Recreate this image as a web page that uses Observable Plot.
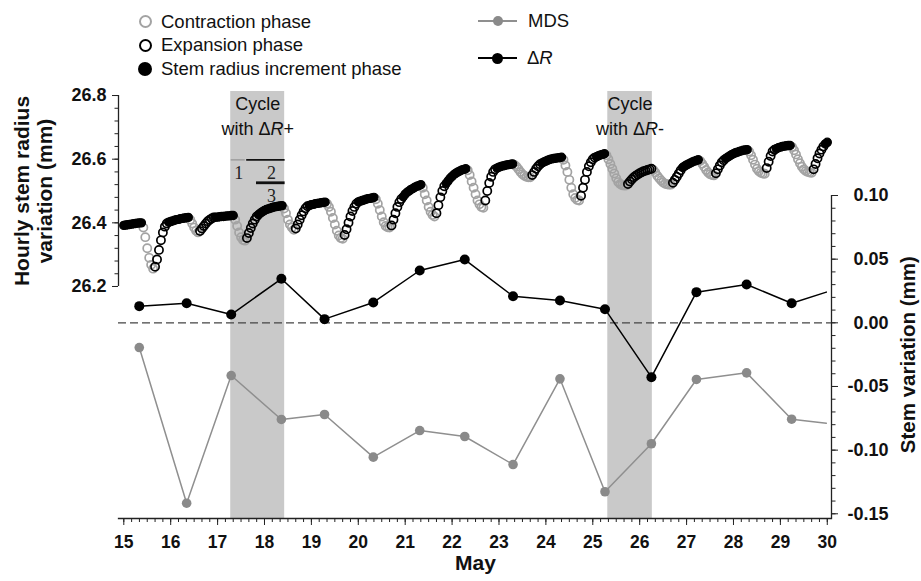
<!DOCTYPE html>
<html><head><meta charset="utf-8">
<script src="https://cdn.jsdelivr.net/npm/d3@7"></script>
<script src="https://cdn.jsdelivr.net/npm/@observablehq/plot@0.6"></script>
<style>
body{margin:0;background:#fff;font-family:"Liberation Sans",Arial,sans-serif;color:#111;}
#legend{position:relative;height:80px;width:921px;font-size:18.5px;}
.t{position:absolute;white-space:nowrap;line-height:1;}
.s{position:absolute;box-sizing:border-box;border-radius:50%;}
.ln{position:absolute;height:1.5px;}
</style></head>
<body>
<div id="legend">
  <div class="s" style="left:138.5px;top:15px;width:13px;height:13px;border:2.4px solid #a3a3a3;"></div>
  <div class="t" style="left:161px;top:12.5px;">Contraction phase</div>
  <div class="s" style="left:138.5px;top:38.5px;width:13px;height:13px;border:2.8px solid #000;"></div>
  <div class="t" style="left:161px;top:36px;">Expansion phase</div>
  <div class="s" style="left:138px;top:62px;width:14px;height:14px;background:#000;"></div>
  <div class="t" style="left:161px;top:60px;">Stem radius increment phase</div>
  <div class="ln" style="left:478px;top:20px;width:39px;background:#8f8f8f;"></div>
  <div class="s" style="left:492.5px;top:16px;width:10px;height:10px;background:#8a8a8a;"></div>
  <div class="t" style="left:528px;top:12px;">MDS</div>
  <div class="ln" style="left:478px;top:57px;width:39px;background:#000;"></div>
  <div class="s" style="left:492px;top:52.5px;width:11px;height:11px;background:#000;"></div>
  <div class="t" style="left:527px;top:49px;">Δ<i>R</i></div>
</div>
<div id="chart"></div>
<script>
// ---- daily series (stem variation, mm) ----
const dayPos = [15.33,16.34,17.29,18.36,19.28,20.32,21.31,22.27,23.30,24.30,25.26,26.25,27.21,28.28,29.24,29.98];
const deltaR = [0.0131,0.0154,0.0065,0.0346,0.0029,0.0160,0.0411,0.0497,0.0209,0.0175,0.0107,-0.0427,0.0241,0.0301,0.0154,0.0241];
const mds    = [-0.0194,-0.1417,-0.0414,-0.0759,-0.0720,-0.1055,-0.0846,-0.0893,-0.1113,-0.0440,-0.1327,-0.0950,-0.0445,-0.0393,-0.0757,-0.0788];
const markerCount = 15;

// ---- hourly stem radius (mm), from May 15 00h ----
const hourlyRadius = [
 26.392,26.393,26.394,26.395,26.396,26.397,26.398,26.399,26.400,26.400,26.385,26.355,26.320,26.290,26.268,26.256,26.262,26.285,26.315,26.345,26.370,26.388,26.398,26.402,
 26.404,26.406,26.408,26.410,26.411,26.413,26.414,26.415,26.416,26.417,26.410,26.398,26.385,26.375,26.370,26.374,26.382,26.390,26.398,26.405,26.410,26.414,26.417,26.418,
 26.418,26.419,26.420,26.420,26.421,26.422,26.422,26.423,26.423,26.410,26.390,26.370,26.355,26.346,26.344,26.352,26.368,26.384,26.398,26.410,26.420,26.426,26.431,26.435,
 26.439,26.442,26.444,26.446,26.448,26.450,26.451,26.452,26.453,26.454,26.445,26.430,26.410,26.395,26.385,26.378,26.382,26.395,26.410,26.424,26.436,26.446,26.452,26.455,
 26.457,26.458,26.460,26.461,26.462,26.463,26.464,26.465,26.460,26.450,26.435,26.415,26.395,26.375,26.360,26.352,26.350,26.362,26.380,26.400,26.420,26.437,26.450,26.460,
 26.466,26.468,26.470,26.472,26.474,26.476,26.477,26.478,26.480,26.474,26.460,26.440,26.420,26.402,26.390,26.386,26.385,26.392,26.410,26.430,26.450,26.465,26.475,26.482,
 26.490,26.496,26.500,26.505,26.508,26.512,26.515,26.517,26.520,26.510,26.490,26.470,26.450,26.435,26.425,26.420,26.430,26.455,26.480,26.500,26.515,26.524,26.532,26.540,
 26.546,26.552,26.556,26.560,26.563,26.566,26.568,26.570,26.565,26.550,26.530,26.510,26.490,26.470,26.458,26.450,26.447,26.470,26.500,26.525,26.545,26.560,26.568,26.572,
 26.575,26.577,26.579,26.580,26.582,26.583,26.584,26.585,26.582,26.576,26.568,26.560,26.553,26.548,26.545,26.543,26.543,26.550,26.560,26.570,26.578,26.584,26.588,26.591,
 26.594,26.597,26.599,26.601,26.602,26.603,26.604,26.605,26.606,26.598,26.580,26.560,26.535,26.510,26.490,26.478,26.472,26.470,26.485,26.510,26.535,26.560,26.578,26.590,
 26.600,26.605,26.608,26.611,26.613,26.615,26.617,26.612,26.600,26.585,26.570,26.555,26.540,26.528,26.522,26.518,26.517,26.517,26.522,26.530,26.537,26.543,26.548,26.552,
 26.556,26.559,26.562,26.564,26.566,26.568,26.570,26.566,26.558,26.548,26.540,26.533,26.527,26.523,26.521,26.520,26.520,26.526,26.535,26.545,26.555,26.565,26.574,26.578,
 26.582,26.585,26.588,26.591,26.594,26.596,26.598,26.594,26.586,26.576,26.566,26.558,26.553,26.550,26.549,26.556,26.568,26.580,26.590,26.597,26.602,26.606,26.610,26.614,
 26.617,26.620,26.622,26.624,26.626,26.628,26.629,26.630,26.624,26.612,26.598,26.583,26.570,26.562,26.557,26.555,26.554,26.572,26.592,26.610,26.624,26.630,26.633,26.636,
 26.638,26.640,26.641,26.642,26.643,26.643,26.638,26.628,26.615,26.600,26.587,26.576,26.568,26.563,26.560,26.558,26.557,26.568,26.585,26.603,26.618,26.630,26.640,26.648,
 26.653
];
// C = contraction, E = expansion, I = stem radius increment
const hourlyPhase = [
 "IIIIIIIIIICCCCCCEEEEEEEI","IIIIIIIIIICCCCCEEEEEEEEI","IIIIIIIIICCCCCCEEEEEEIII",
 "IIIIIIIIIICCCCCCEEEEEEEI","IIIIIIIICCCCCCCCCEEEEEEE","IIIIIIIIICCCCCCCCEEEEEEI",
 "IIIIIIIIICCCCCCCEEEEEIII","IIIIIIIICCCCCCCCCEEEEEEI","IIIIIIIICCCCCCCCCEEEEEII",
 "IIIIIIIIICCCCCCCCCEEEEEE","EEIIIIICCCCCCCCCCCEEEEEE","EEEEEEECCCCCCCCCCEEEEEII",
 "IIIIIIICCCCCCCCEEEEEIIII","IIIIIIIICCCCCCCCCEEEEEII","IIIIIICCCCCCCCCCCEEEEEEI","I"
].join("");

// ---- shaded cycles & labels ----
const cycleStart = [17.28, 25.32];
const cycleEnd   = [18.43, 26.27];
const cycleLine2 = ["with ΔR+", "with ΔR-"];

// ---- axes ----
const dayTicks = d3.range(15, 31);
const dayMinor = d3.range(15*6, 30*6+1).map(v => v/6);
const leftTicks = [26.2, 26.4, 26.6, 26.8];
const leftMinor = d3.range(0, 16).map(i => 26.2 + i*0.04);
const rightTicks = [-0.15, -0.10, -0.05, 0.00, 0.05, 0.10];
const rightMinor = d3.range(0, 26).map(i => -0.15 + i*0.01);

// left (hourly radius) axis expressed in right-axis units
const OFF = 6.52146;
const toR = L => L/4 - OFF;
const fromR = r => (r + OFF)*4;

const xMin = 14.887, xMax = 30.09, yMin = -0.1537, yMax = 0.1817;

const hourly = hourlyRadius.map((v,i) => ({day: 15 + i/24, y: toR(v), phase: hourlyPhase[i]}));
const daily = dayPos.map((d,i) => ({day: d, dr: deltaR[i], mds: mds[i], i}));
const cycles = cycleStart.map((s,i) => ({s, e: cycleEnd[i], mid: (s + cycleEnd[i])/2, l2: cycleLine2[i]}));

// phase-annotation inside first cycle
const phaseRules = [
  {x1: 17.29, x2: 17.59, y: 0.128, stroke: "#9a9a9a", w: 1.4},
  {x1: 17.62, x2: 18.44, y: 0.128, stroke: "#111", w: 1.6},
  {x1: 17.83, x2: 18.44, y: 0.110, stroke: "#111", w: 2.8}
];
const phaseNums = [
  {x: 17.45, y: 0.1133, t: "1"},
  {x: 18.15, y: 0.1133, t: "2"},
  {x: 18.15, y: 0.0947, t: "3"}
];

const bold = {fontWeight: "bold"};
const plot = Plot.plot({
  width: 921, height: 501,
  marginTop: 11, marginBottom: 63, marginLeft: 118, marginRight: 90,
  x: {domain: [xMin, xMax], label: null},
  y: {domain: [yMin, yMax], label: null},
  style: {fontFamily: "'Liberation Sans', Arial, sans-serif", fontSize: "18px", color: "#111", background: "white", overflow: "visible"},
  marks: [
    Plot.rect(cycles, {x1: "s", x2: "e", fill: "#c9c9c9"}),
    Plot.ruleY([0], {stroke: "#444", strokeWidth: 1.3, strokeDasharray: "8,4"}),
    Plot.line(daily, {x: "day", y: "mds", stroke: "#8f8f8f", strokeWidth: 1.5}),
    Plot.dot(daily.filter(d => d.i < markerCount), {x: "day", y: "mds", r: 4.8, fill: "#8a8a8a"}),
    Plot.line(daily, {x: "day", y: "dr", stroke: "#000", strokeWidth: 1.5}),
    Plot.dot(daily.filter(d => d.i < markerCount), {x: "day", y: "dr", r: 5, fill: "#000"}),
    Plot.dot(hourly.filter(d => d.phase === "C"), {x: "day", y: "y", r: 4.1, stroke: "#a3a3a3", fill: "none", strokeWidth: 1.7}),
    Plot.dot(hourly.filter(d => d.phase === "E"), {x: "day", y: "y", r: 4.1, stroke: "#000", fill: "none", strokeWidth: 1.7}),
    Plot.dot(hourly.filter(d => d.phase === "I"), {x: "day", y: "y", r: 4.1, stroke: "#000", fill: "#000", strokeWidth: 1.2}),
    // cycle labels
    Plot.text(cycles, {x: "mid", y: () => 0.1668, text: () => "Cycle", fontSize: 18, lineAnchor: "bottom", fill: "#111"}),
    Plot.text(cycles, {x: "mid", y: () => 0.1479, text: "l2", fontSize: 18, lineAnchor: "bottom", fill: "#111"}),
    Plot.ruleY(phaseRules, {x1: "x1", x2: "x2", y: "y", stroke: "stroke", strokeWidth: "w"}),
    Plot.text(phaseNums, {x: "x", y: "y", text: "t", fontFamily: "'Liberation Serif', serif", fontSize: 18, lineAnchor: "bottom", fill: "#222"}),
    // axis lines
    Plot.frame({anchor: "bottom", stroke: "#222", strokeWidth: 1.3}),
    Plot.ruleX([xMin], {y1: toR(26.2), y2: toR(26.8), stroke: "#222", strokeWidth: 1.3}),
    Plot.ruleX([xMax], {y1: yMin, y2: 0.10, stroke: "#222", strokeWidth: 1.3}),
    // x axis
    Plot.axisX(dayTicks, {tickSize: 7, tickPadding: 10, fontSize: 17.5, ...bold, label: null, stroke: "#222"}),
    Plot.axisX(dayMinor, {tickSize: 4, tickFormat: () => "", label: null, stroke: "#222"}),
    // left axis
    Plot.axisY(leftTicks.map(toR), {anchor: "left", tickSize: 6, tickPadding: 6, tickFormat: r => fromR(r).toFixed(1), fontSize: 18, ...bold, label: null, stroke: "#222"}),
    Plot.axisY(leftMinor.map(toR), {anchor: "left", tickSize: 3.5, tickFormat: () => "", label: null, stroke: "#222"}),
    // right axis
    Plot.axisY(rightTicks, {anchor: "right", tickSize: 6, tickPadding: 51, textAnchor: "end", tickFormat: d => d.toFixed(2), fontSize: 18, ...bold, label: null, stroke: "#222"}),
    Plot.axisY(rightMinor, {anchor: "right", tickSize: 3.5, tickFormat: () => "", label: null, stroke: "#222"}),
    // axis titles
    Plot.text(["Hourly stem radius"], {x: () => xMin, y: () => toR(26.5), dx: -96, rotate: -90, fontSize: 21, ...bold, fill: "#111"}),
    Plot.text(["variation (mm)"], {x: () => xMin, y: () => toR(26.5), dx: -73, rotate: -90, fontSize: 21, ...bold, fill: "#111"}),
    Plot.text(["Stem variation (mm)"], {x: () => xMax, y: () => -0.025, dx: 77, rotate: -90, fontSize: 20.5, ...bold, fill: "#111"}),
    Plot.text(["May"], {x: () => 22.5, frameAnchor: "bottom", dy: 51, fontSize: 21, ...bold, fill: "#111"})
  ]
});

// italic R in "ΔR" labels
d3.select(plot).selectAll("text").filter(function(){ return this.textContent.includes("ΔR"); }).each(function(){
  const parts = this.textContent.split("ΔR");
  const el = d3.select(this);
  el.text(null);
  el.append("tspan").text(parts[0] + "Δ");
  el.append("tspan").attr("font-style", "italic").text("R");
  el.append("tspan").text(parts[1]);
});

document.getElementById("chart").appendChild(plot);
</script>
</body></html>
